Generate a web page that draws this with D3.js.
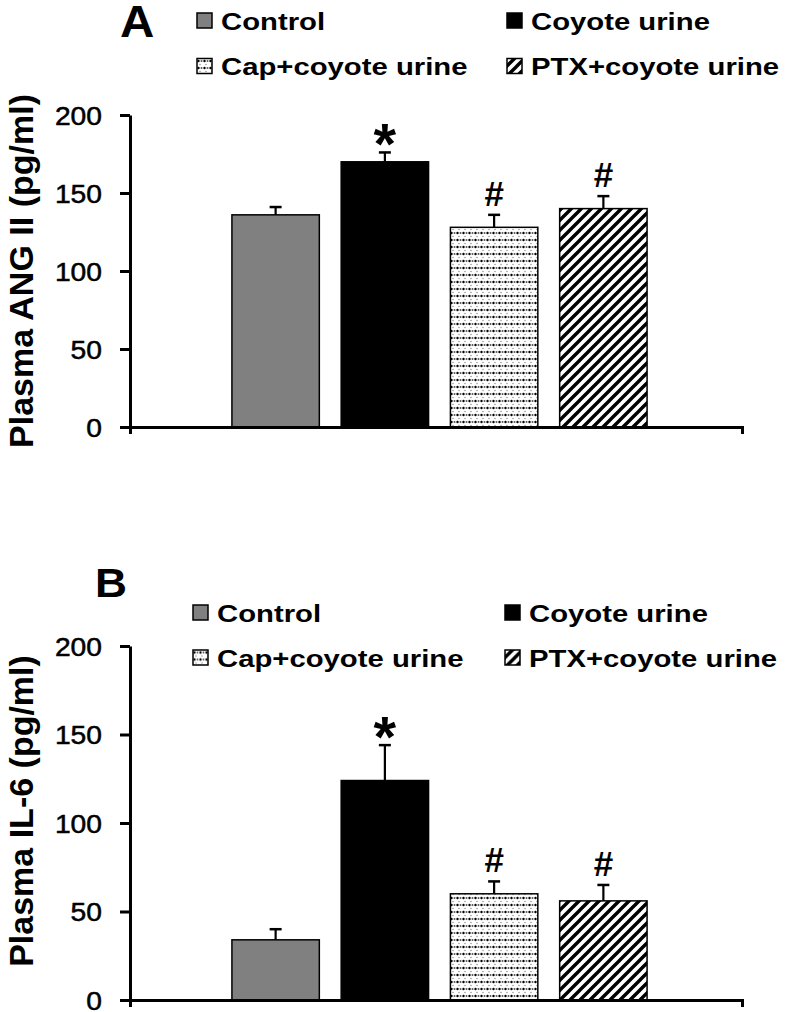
<!DOCTYPE html>
<html>
<head>
<meta charset="utf-8">
<script src="https://cdn.jsdelivr.net/npm/d3@7"></script>
<style>
  body { margin: 0; background: #fff; }
  svg { display: block; font-family: "Liberation Sans", Arial, sans-serif; }
</style>
</head>
<body>
<div id="container"></div>
<script>
/* DATA */
const groups = ["Control", "Coyote urine", "Cap+coyote urine", "PTX+coyote urine"];
const angMean = [136, 170, 128, 140];
const angSem = [5, 6, 8, 8];
const il6Mean = [34, 124, 60, 56];
const il6Sem = [6, 20, 7, 9];
const marks = ["", "*", "#", "#"];
const yTicks = [0, 50, 100, 150, 200];

/* CONSTANTS */
const width = 800, height = 1012;
const fills = ["#808080", "#000000", "url(#dots)", "url(#hatch)"];

const svg = d3.select("#container")
  .append("svg")
  .attr("width", width)
  .attr("height", height);

const defs = svg.append("defs");

// dotted fill
const dots = defs.append("pattern")
  .attr("id", "dots")
  .attr("patternUnits", "userSpaceOnUse")
  .attr("width", 6).attr("height", 7);
dots.append("rect").attr("width", 6).attr("height", 7).attr("fill", "#fff");
dots.append("circle").attr("cx", 1.5).attr("cy", 2).attr("r", 1.2).attr("fill", "#000");
dots.append("circle").attr("cx", 4.5).attr("cy", 2).attr("r", 1).attr("fill", "#555");
dots.append("circle").attr("cx", 3).attr("cy", 5.5).attr("r", 0.8).attr("fill", "#999");

// diagonal hatch
const hatch = defs.append("pattern")
  .attr("id", "hatch")
  .attr("patternUnits", "userSpaceOnUse")
  .attr("width", 10).attr("height", 10);
hatch.append("rect").attr("width", 10).attr("height", 10).attr("fill", "#fff");
hatch.append("path")
  .attr("d", "M-2,2 L2,-2 M0,10 L10,0 M8,12 L12,8")
  .attr("stroke", "#000")
  .attr("stroke-width", 3.4);

// stretched text helper (the original figure is widened horizontally)
function sText(g, x, y, str, size, sx, weight, anchor) {
  return g.append("text")
    .attr("transform", `translate(${x},${y}) scale(${sx},1)`)
    .attr("font-size", size)
    .attr("font-weight", weight)
    .attr("text-anchor", anchor || "start")
    .attr("fill", "#000")
    .text(str);
}

function drawPanel(cfg) {
  const g = svg.append("g");

  /* SCALES */
  const xScale = d3.scaleBand()
    .domain(groups)
    .range([221, 658])
    .paddingInner(0.2)
    .paddingOuter(0.1);

  const yScale = d3.scaleLinear()
    .domain([0, 200])
    .range([cfg.bottom, cfg.top]);

  // bars
  g.selectAll("rect.bar")
    .data(groups)
    .join("rect")
    .attr("class", "bar")
    .attr("x", d => xScale(d))
    .attr("width", xScale.bandwidth())
    .attr("y", (d, i) => yScale(cfg.mean[i]))
    .attr("height", (d, i) => yScale(0) - yScale(cfg.mean[i]))
    .attr("fill", (d, i) => fills[i])
    .attr("stroke", "#000")
    .attr("stroke-width", 1.5);

  // error bars (upper only)
  const eb = g.selectAll("g.err")
    .data(groups)
    .join("g")
    .attr("class", "err")
    .attr("transform", d => `translate(${xScale(d) + xScale.bandwidth() / 2},0)`);
  eb.append("line")
    .attr("y1", (d, i) => yScale(cfg.mean[i]))
    .attr("y2", (d, i) => yScale(cfg.mean[i] + cfg.sem[i]))
    .attr("stroke", "#000").attr("stroke-width", 2.2);
  eb.append("line")
    .attr("x1", -6).attr("x2", 6)
    .attr("y1", (d, i) => yScale(cfg.mean[i] + cfg.sem[i]))
    .attr("y2", (d, i) => yScale(cfg.mean[i] + cfg.sem[i]))
    .attr("stroke", "#000").attr("stroke-width", 2.5);

  // significance marks
  eb.each(function(d, i) {
    if (!marks[i]) return;
    const top = yScale(cfg.mean[i] + cfg.sem[i]);
    if (marks[i] === "*") {
      sText(d3.select(this), 0, top - 11 + 23, "*", 58, 1, "bold", "middle");
    } else {
      sText(d3.select(this), 0, top - 9, "#", 35, 1, "bold", "middle");
    }
  });

  // y axis
  const yAxis = d3.axisLeft(yScale)
    .tickValues(yTicks)
    .tickSize(10)
    .tickSizeOuter(0)
    .tickPadding(0);
  const ya = g.append("g")
    .attr("transform", "translate(130,0)")
    .call(yAxis);
  ya.select(".domain").attr("stroke-width", 3);
  ya.selectAll(".tick line").attr("stroke-width", 3);
  ya.selectAll(".tick text")
    .attr("font-size", 25)
    .attr("font-family", "Liberation Sans, Arial, sans-serif")
    .attr("fill", "#000")
    .attr("stroke", "#000")
    .attr("stroke-width", 0.5)
    .attr("x", -28 / 1.13)
    .attr("dy", "0.36em")
    .attr("transform", "scale(1.13,1)");

  // x axis (no category labels, end ticks only)
  const xLine = d3.scaleLinear().range([130, 742]);
  const xa = g.append("g")
    .attr("transform", `translate(0,${cfg.bottom})`)
    .call(d3.axisBottom(xLine).tickValues([]).tickSizeOuter(7));
  xa.select(".domain").attr("stroke-width", 3);

  // y label
  g.append("text")
    .attr("transform", `translate(33,${cfg.labelY}) rotate(-90)`)
    .attr("text-anchor", "middle")
    .attr("font-size", 34)
    .attr("font-weight", "bold")
    .text(cfg.ylabel);

  // panel letter
  sText(g, cfg.letterX, cfg.letterY, cfg.letter, cfg.letterSize, 1.08, "bold");

  // legend
  const legend = g.selectAll("g.leg")
    .data(groups)
    .join("g")
    .attr("class", "leg")
    .attr("transform", (d, i) => `translate(${cfg.legX[i % 2]},${cfg.legY[Math.floor(i / 2)]})`);
  legend.append("rect")
    .attr("x", 0).attr("y", -7.5)
    .attr("width", 15).attr("height", 15)
    .attr("fill", (d, i) => fills[i])
    .attr("stroke", "#000")
    .attr("stroke-width", 1.5);
  legend.each(function(d) {
    sText(d3.select(this), 24, 9, d, 24, 1.22, "bold");
  });
}

drawPanel({
  mean: angMean, sem: angSem,
  top: 115, bottom: 427,
  ylabel: "Plasma ANG II (pg/ml)", labelY: 271,
  letter: "A", letterX: 120, letterY: 37, letterSize: 44,
  legX: [197, 507], legY: [20.5, 66]
});

drawPanel({
  mean: il6Mean, sem: il6Sem,
  top: 646, bottom: 1000,
  ylabel: "Plasma IL-6 (pg/ml)", labelY: 811,
  letter: "B", letterX: 95, letterY: 597, letterSize: 41,
  legX: [193, 505], legY: [612.5, 657.5]
});
</script>
</body>
</html>
